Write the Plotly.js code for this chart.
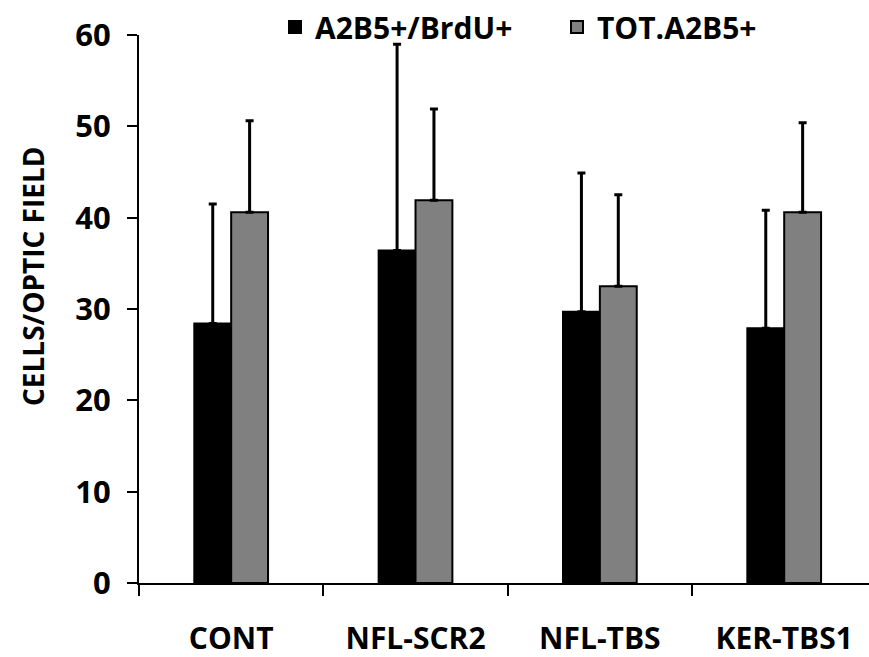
<!DOCTYPE html>
<html>
<head>
<meta charset="utf-8">
<script src="https://cdn.plot.ly/plotly-3.0.1.min.js"></script>
<style>html,body{margin:0;padding:0;background:#fff;}#chart{width:869px;height:657px;}</style>
</head>
<body>
<div id="chart"></div>
<script>
var categories = ["CONT", "NFL-SCR2", "NFL-TBS", "KER-TBS1"];
var seriesNames = ["A2B5+/BrdU+", "TOT.A2B5+"];
var brduMeans = [28.4, 36.4, 29.7, 27.9];
var brduErrTop = [41.5, 59.0, 44.9, 40.8];
var totMeans = [40.6, 41.9, 32.5, 40.6];
var totErrTop = [50.6, 51.9, 42.5, 50.4];
var yTicks = [0, 10, 20, 30, 40, 50, 60];

function diff(top, mean) { return top.map(function (t, i) { return +(t - mean[i]).toFixed(2); }); }

var font = "'Open Sans', 'DejaVu Sans', sans-serif";
var legendFont = { family: font, size: 30, color: "#000000", weight: "bold" };

var traces = [
  {
    type: "bar", name: seriesNames[0], x: categories, y: brduMeans, legend: "legend",
    marker: { color: "#000000", line: { color: "#000000", width: 2 } },
    error_y: { type: "data", symmetric: false, array: diff(brduErrTop, brduMeans), arrayminus: brduMeans.map(function(){return 0;}), color: "#000000", thickness: 3, width: 4 }
  },
  {
    type: "bar", name: seriesNames[1], x: categories, y: totMeans, legend: "legend2",
    marker: { color: "#808080", line: { color: "#000000", width: 2 } },
    error_y: { type: "data", symmetric: false, array: diff(totErrTop, totMeans), arrayminus: totMeans.map(function(){return 0;}), color: "#000000", thickness: 3, width: 4 }
  }
];

var layout = {
  width: 869, height: 657,
  margin: { l: 139, r: 0, t: 35, b: 74 },
  paper_bgcolor: "#ffffff", plot_bgcolor: "#ffffff",
  barmode: "group", bargap: 0.6, bargroupgap: 0,
  font: { family: font, color: "#000000" },
  showlegend: true,
  legend: {
    orientation: "h", x: (275 - 139) / 730, xanchor: "left", y: (583 - 27) / 548, yanchor: "middle",
    font: legendFont, itemwidth: 30, bgcolor: "rgba(0,0,0,0)"
  },
  legend2: {
    orientation: "h", x: (557 - 139) / 730, xanchor: "left", y: (583 - 27) / 548, yanchor: "middle",
    font: legendFont, itemwidth: 30, bgcolor: "rgba(0,0,0,0)"
  },
  xaxis: {
    type: "category", range: [-0.5, 3.46],
    showline: true, linecolor: "#000000", linewidth: 2,
    ticks: "outside", tickson: "boundaries", ticklen: 11, tickwidth: 2, tickcolor: "#000000",
    tickfont: { family: font, size: 30, color: "#000000", weight: "bold" },
    ticklabelstandoff: 28,
    showgrid: false, zeroline: false, fixedrange: true
  },
  yaxis: {
    range: [0, 60], tickvals: yTicks, ticktext: yTicks.map(String),
    showline: true, linecolor: "#000000", linewidth: 2,
    ticks: "outside", ticklen: 10, tickwidth: 2, tickcolor: "#000000",
    tickfont: { family: font, size: 31, color: "#000000", weight: "bold" },
    ticklabelstandoff: 10,
    showgrid: false, zeroline: false, fixedrange: true
  },
  annotations: [
    {
      text: "CELLS/OPTIC FIELD", xref: "paper", yref: "paper",
      x: (33 - 139) / 730, y: (583 - 277) / 548, xanchor: "center", yanchor: "middle",
      textangle: -90, showarrow: false,
      font: { family: font, size: 28, color: "#000000", weight: "bold" }
    }
  ]
};

Plotly.newPlot("chart", traces, layout, { staticPlot: true, displayModeBar: false });
</script>
</body>
</html>
